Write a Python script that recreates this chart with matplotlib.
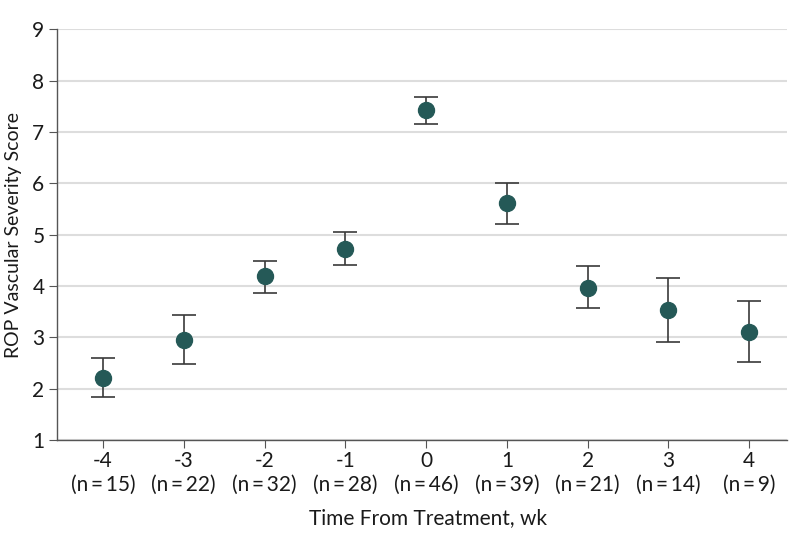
import matplotlib
matplotlib.use('Agg')
import matplotlib.pyplot as plt

# Datos
weeks = [-4, -3, -2, -1, 0, 1, 2, 3, 4]
n_counts = [15, 22, 32, 28, 46, 39, 21, 14, 9]
score = [2.20, 2.95, 4.20, 4.72, 7.43, 5.62, 3.97, 3.54, 3.10]
upper = [2.60, 3.43, 4.48, 5.05, 7.69, 6.01, 4.39, 4.16, 3.71]
lower = [1.84, 2.48, 3.87, 4.42, 7.15, 5.21, 3.58, 2.92, 2.52]

plt.rcParams['font.family'] = ['Lato', 'DejaVu Sans']
plt.rcParams['font.size'] = 15

fig = plt.figure(figsize=(7.98, 5.46), dpi=100)
ax = fig.add_axes([0.0714, 0.194, 0.915, 0.752])

yerr = [[s - lo for s, lo in zip(score, lower)],
        [up - s for s, up in zip(score, upper)]]
ax.errorbar(weeks, score, yerr=yerr, fmt='o', color='#255957', markersize=11.5,
            ecolor='#3a3a3a', elinewidth=1.2, capsize=8.5, capthick=1.2, zorder=3)

ax.set_xlim(-4.57, 4.47)
ax.set_ylim(1, 9)
ax.set_yticks(range(1, 10))
ax.set_xticks(weeks)
ax.set_xticklabels([str(w) for w in weeks])
ax.grid(axis='y', color='#dddddd', linewidth=1.5, zorder=0)
ax.set_axisbelow(True)

# Segunda línea de etiquetas: tamaño de muestra
for w, n in zip(weeks, n_counts):
    ax.annotate(f'(n\u2009=\u2009{n})', xy=(w, 0), xycoords=('data', 'axes fraction'),
                xytext=(0, -45), textcoords='offset pixels',
                ha='center', va='center', fontsize=15, color='#1a1a1a',
                annotation_clip=False)

for side in ['top', 'right']:
    ax.spines[side].set_visible(False)
for side in ['left', 'bottom']:
    ax.spines[side].set_color('#555555')
    ax.spines[side].set_linewidth(1.0)
ax.tick_params(axis='both', colors='#555555', labelcolor='#1a1a1a', length=6,
               labelsize=15)
ax.tick_params(axis='x', pad=2)
ax.tick_params(axis='y', pad=3)

ax.set_xlabel('Time From Treatment, wk', fontsize=15, color='#1a1a1a')
ax.set_ylabel('ROP Vascular Severity Score', fontsize=14, color='#1a1a1a')
ax.xaxis.set_label_coords(0.508, -0.19)
ax.xaxis.label.set_va('center')
ax.yaxis.set_label_coords(-0.060, 0.5)
ax.yaxis.label.set_va('center')

fig.savefig('out.png', dpi=100)
